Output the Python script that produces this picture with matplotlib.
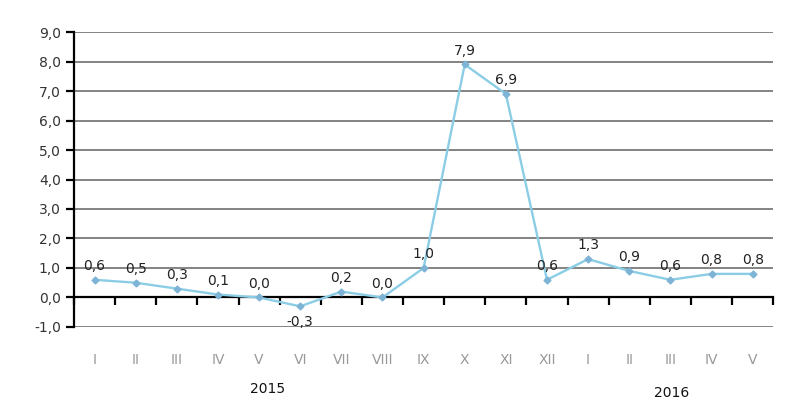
#!/usr/bin/env python3
# -*- coding: utf-8 -*-

import matplotlib
matplotlib.use("Agg")
import matplotlib.pyplot as plt
from matplotlib.ticker import FixedLocator, FuncFormatter

months = ["I", "II", "III", "IV", "V", "VI", "VII", "VIII", "IX", "X", "XI",
          "XII", "I", "II", "III", "IV", "V"]
values = [0.6, 0.5, 0.3, 0.1, 0.0, -0.3, 0.2, 0.0, 1.0, 7.9, 6.9, 0.6,
          1.3, 0.9, 0.6, 0.8, 0.8]
years = ["2015", "2016"]


def comma(v):
    return f"{v:.1f}".replace(".", ",")


fig = plt.figure(figsize=(8, 4.16), dpi=100)
ax = fig.add_axes([0.0925, 0.214, 0.874, 0.709])

x = list(range(len(values)))
ax.plot(x, values, color="#8ccde6", lw=1.7, marker="D", ms=3.5,
        mfc="#7db4d6", mec="#7db4d6", zorder=3)

# data labels
for xi, v in zip(x, values):
    if v < 0:
        ax.annotate(comma(v), (xi, v), xytext=(0, -6), textcoords="offset points",
                    ha="center", va="top", fontsize=10, color="#222222")
    else:
        ax.annotate(comma(v), (xi, v), xytext=(0, 5), textcoords="offset points",
                    ha="center", va="bottom", fontsize=10, color="#222222")

ax.set_xlim(-0.5, len(values) - 0.5)
ax.set_ylim(-1, 9)
ax.set_yticks(range(-1, 10))
ax.yaxis.set_major_formatter(FuncFormatter(lambda v, p: comma(v)))
ax.grid(axis="y", color="#7a7a7a", lw=1.3)
ax.set_axisbelow(True)

for s in ["top", "right"]:
    ax.spines[s].set_visible(False)
ax.spines["bottom"].set_position(("data", 0))
ax.spines["bottom"].set_linewidth(1.6)
ax.spines["left"].set_linewidth(1.6)
ax.spines["bottom"].set_zorder(2)

ax.set_xticks(x)
ax.set_xticklabels(months)
ax.xaxis.set_minor_locator(FixedLocator([i - 0.5 for i in range(len(values) + 1)]))
ax.tick_params(axis="x", which="major", length=0, pad=40, labelsize=10,
               labelcolor="#999999")
ax.tick_params(axis="x", which="minor", length=6, width=1.6, direction="out")
ax.tick_params(axis="y", length=6, width=1.6, labelsize=10, labelcolor="#333333")

fig.text(268 / 800, 1 - 389 / 416, years[0], ha="center", va="center",
         fontsize=10, color="#111111")
fig.text(672 / 800, 1 - 393 / 416, years[1], ha="center", va="center",
         fontsize=10, color="#111111")

fig.savefig("out.png", dpi=100)
